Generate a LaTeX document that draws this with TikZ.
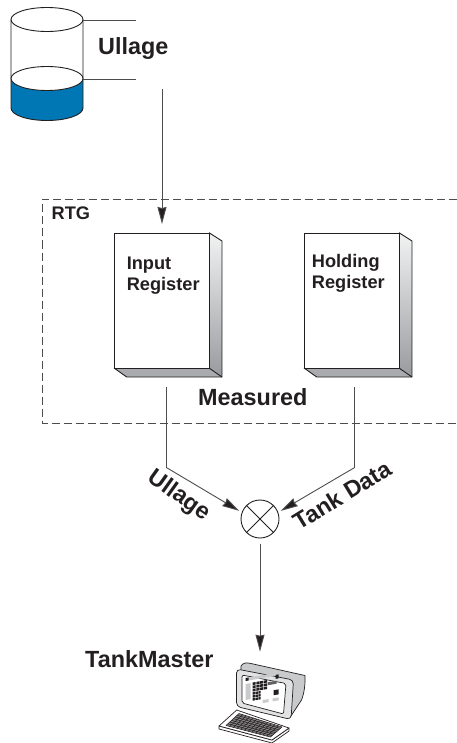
\documentclass[tikz,border=0pt]{standalone}
\usepackage{fontspec}
\setmainfont{Liberation Sans}
\usetikzlibrary{arrows.meta,calc}
\definecolor{ink}{HTML}{231F20}
\definecolor{tankblue}{HTML}{0077B5}
\definecolor{sideLight}{HTML}{F1F3F3}
\definecolor{sideDark}{HTML}{989A9E}
\definecolor{baseGray}{HTML}{A9ABAE}
\definecolor{pcGray}{HTML}{C9CACC}
\tikzset{
  lab/.style={font=\bfseries\fontsize{23.4}{25}\selectfont,text=ink,inner sep=0pt,anchor=base west},
  sublab/.style={font=\bfseries\fontsize{18.2}{20}\selectfont,text=ink,inner sep=0pt,anchor=base west},
  rotlab/.style={font=\bfseries\fontsize{23.4}{25}\selectfont,text=ink,inner sep=0pt},
  wire/.style={draw=ink!80,line width=0.9pt},
  flow/.style={wire,-{Stealth[length=17pt,width=9pt,inset=1pt,fill=ink]}},
  outline/.style={draw=ink,line width=0.9pt},
  pcline/.style={draw=ink,line width=0.7pt,line join=round},
}
\newcommand{\regbox}[2]{%
  \begin{scope}[shift={(#2,0)}]
    \shade[top color=sideLight,bottom color=sideDark] (95,232.7) -- (108,241) -- (108,377) -- (95,368) -- cycle;
    \fill[baseGray] (0,368) -- (95,368) -- (108,377) -- (12.7,377) -- cycle;
    \draw[outline,line join=round] (95,232.7) -- (108,241) -- (108,377) -- (12.7,377) -- (0,368);
    \draw[outline] (95,368) -- (108,377);
    \node[draw=ink,line width=0.9pt,fill=white,minimum width=95pt,minimum height=135.3pt,inner sep=0pt,anchor=north west] (#1) at (0,232.7) {};
  \end{scope}}
\begin{document}
\begin{tikzpicture}[x=1pt,y=-1pt]
\useasboundingbox (0,0) rectangle (457,743);
% tank
\fill[tankblue] (11,79) -- (11,108) arc[start angle=180,end angle=0,x radius=36,y radius=12.5] -- (83,79) -- cycle;
\draw[outline] (11,19.5) -- (11,108) arc[start angle=180,end angle=0,x radius=36,y radius=12.5] -- (83,19.5);
\draw[outline,fill=white] (47,19.5) ellipse [x radius=36,y radius=12];
\draw[outline,fill=white] (47,78.5) ellipse [x radius=36,y radius=12];
\coordinate (topA) at (83,20.5); \coordinate (topB) at (136,20.5);
\coordinate (lowA) at (83,79); \coordinate (lowB) at (136,79);
\draw[wire] (topA) -- (topB);
\draw[wire] (lowA) -- (lowB);
\node[lab] (ullageTop) at (98,54.5) {Ullage};
% RTG frame
\coordinate (frNE) at (457,199.5); \coordinate (frNW) at (42,199.5);
\coordinate (frSW) at (42,423); \coordinate (frSE) at (457,423);
\draw[draw=ink!80,line width=0.8pt,dash pattern=on 8pt off 4pt] (frNE) -- (frNW) -- (frSW) -- (frSE);
\node[sublab] (rtg) at (51.5,219) {RTG};
% registers
\regbox{inreg}{114}
\regbox{holdreg}{304}
\node[sublab] (inA) at (126.6,269) {Input};
\node[sublab] (inB) at (126.6,290.5) {Register};
\node[sublab] (hoA) at (311.7,267.5) {Holding};
\node[sublab] (hoB) at (311.7,288.5) {Register};
\node[lab] (meas) at (198,405) {Measured};
% feed into input register
\coordinate (feed) at (162,89); \coordinate (feedEnd) at (162,224);
\draw[flow] (feed) -- (feedEnd);
% summing junction
\node[circle,draw=ink,line width=0.9pt,minimum size=38pt,inner sep=0pt] (mix) at (260,519) {};
\draw[draw=ink,line width=0.8pt] (mix.45) -- (mix.225) (mix.135) -- (mix.315);
\coordinate (lS) at (166.7,387); \coordinate (lT) at (166.7,467.7);
\coordinate (rS) at (354.3,387); \coordinate (rT) at (354.3,467.7);
\draw[wire] (lS) -- (lT);
\draw[wire] (rS) -- (rT);
\draw[flow,shorten >=3pt] (lT) -- (mix.160);
\draw[flow,shorten >=3pt] (rT) -- (mix.20);
\node[rotlab,rotate=-35.5] (ullageRot) at (179,496) {Ullage};
\node[rotlab,rotate=31.5] (tankData) at (342,495) {Tank Data};
% to TankMaster
\coordinate (pcTop) at (260,651.7);
\draw[flow] (mix) ++(0,25) -- (pcTop);
\node[lab] (tm) at (85,667.7) {TankMaster};
% keyboard (behind the monitor)
\coordinate (kL) at (219,726); \coordinate (kT) at (236.7,710);
\coordinate (kR) at (289,728); \coordinate (kB) at (272,740);
\draw[pcline,fill=white] (kL) -- (219,729) -- (272,743) -- (289,731) -- (kR) -- (kB) -- cycle;
\draw[pcline,fill=white] (kL) -- (kT) -- (kR) -- (kB) -- cycle;
\coordinate (iL) at (226,725.5); \coordinate (iT) at (239,713.5);
\coordinate (iR) at (282,727); \coordinate (iB) at (270.5,737);
\fill[ink!55] (iL) -- (iT) -- (iR) -- (iB) -- cycle;
\foreach \t in {0,0.0833,...,1.01}
  \draw[ink,line width=0.55pt] ($(iL)!\t!(iB)$) -- ($(iT)!\t!(iR)$);
\foreach \t in {0,0.1428,...,1.01}
  \draw[ink,line width=0.55pt] ($(iL)!\t!(iT)$) -- ($(iB)!\t!(iR)$);
% monitor
\draw[pcline,fill=pcGray] (241,666) .. controls (243,662.5) and (247,662.5) .. (251,663.5) -- (305,675.5) .. controls (305.5,684) and (304,694) .. (301.5,700) -- (291,716) -- (240,700) -- cycle;
\draw[pcline,fill=pcGray!55!white,rounded corners=4pt] (236.5,669) -- (293.5,680) -- (291,719.5) -- (236.5,706.5) -- cycle;
\draw[pcline,fill=white,rounded corners=2pt] (242,675) -- (286,683.5) -- (283.5,714) -- (242,703) -- cycle;
\begin{scope}[shift={(245.5,678)},yslant=0.17]
  \fill[pcGray] (0,0) -- (36,0) -- (36,3) -- (0,3) -- cycle;
  \fill[ink] (0,0) -- (3,0) -- (3,3) -- (0,3) -- cycle;
  \fill[ink] (30,2) -- (33,2) -- (33,6) -- (30,6) -- cycle;
  \fill[pcGray] (0,6) -- (5,6) -- (5,22) -- (0,22) -- cycle;
  \foreach \c in {0,1,2,3} \foreach \r in {0,1,2}
    \fill[ink] ({7+\c*3.8},{5.7+\r*3.2}) -- ({10.2+\c*3.8},{5.7+\r*3.2}) -- ({10.2+\c*3.8},{8.3+\r*3.2}) -- ({7+\c*3.8},{8.3+\r*3.2}) -- cycle;
  \foreach \c in {0,1,2} \foreach \r in {0,1,2}
    \fill[ink] ({7+\c*2.9},{15.5+\r*3}) -- ({9.4+\c*2.9},{15.5+\r*3}) -- ({9.4+\c*2.9},{17.9+\r*3}) -- ({7+\c*2.9},{17.9+\r*3}) -- cycle;
  \fill[ink!70] (22,8) -- (31,8) -- (31,11) -- (22,11) -- cycle;
  \fill[ink] (28,17) -- (33,17) -- (33,22) -- (28,22) -- cycle;
  \fill[pcGray] (17,25) -- (23,25) -- (23,28) -- (17,28) -- cycle;
  \fill[pcGray] (27,25) -- (33,25) -- (33,28) -- (27,28) -- cycle;
\end{scope}
\end{tikzpicture}
\end{document}
